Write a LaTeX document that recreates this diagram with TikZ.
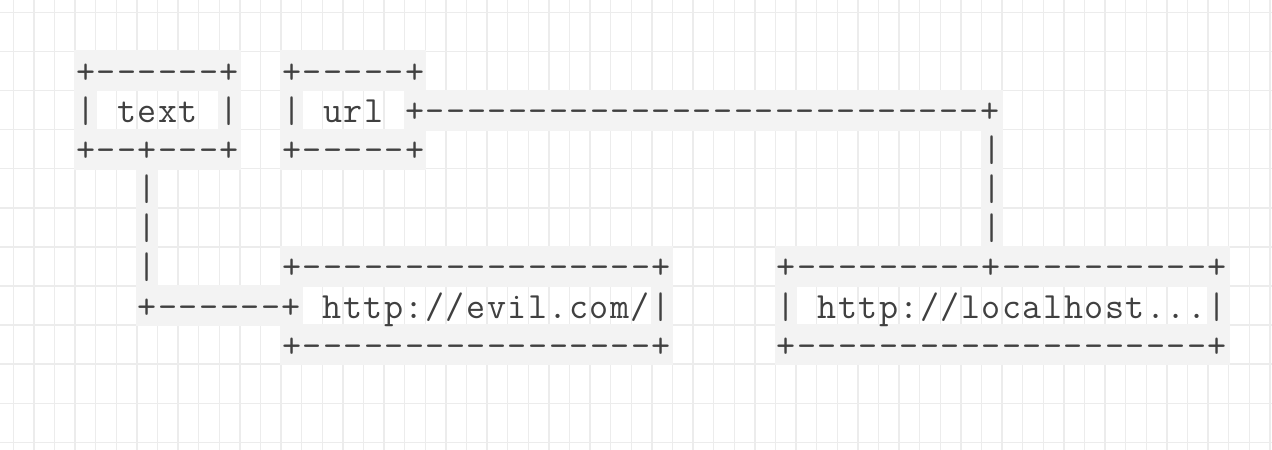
\documentclass[tikz,border=0pt]{standalone}
\usepackage{fontspec}
\setmonofont{Latin Modern Mono}[LetterSpace=4.0, WordSpace=1.075]
\usepackage{tikz}

\definecolor{gridgray}{RGB}{236,236,236}
\definecolor{cellgray}{RGB}{243,243,243}
\definecolor{inkgray}{RGB}{64,64,64}

\tikzset{
  gridline/.style = {gridgray, line width = 0.75pt},
  cellbg/.style = {fill = cellgray},
  ascii/.style = {inkgray, anchor = base west, inner sep = 0pt,
    font = \ttfamily\fontsize{18.5pt}{22pt}\selectfont}
}

\begin{document}
\begin{tikzpicture}[x = 10.3pt, y = -19.55pt]
\useasboundingbox[fill = white] (-0.6456, -0.3146) rectangle (61.102, 11.194);
% grid
\foreach \c in {0,...,61} \draw[gridline] (\c, -0.3146) -- (\c, 11.194);
\foreach \r in {0,...,11} \draw[gridline] (-0.6456, \r) -- (61.102, \r);
% shaded cells under the line characters
\foreach \a/\b/\r in {3/10/1, 13/19/1,
    3/3/2, 10/10/2, 13/13/2, 19/47/2,
    3/10/3, 13/19/3, 47/47/3,
    6/6/4, 47/47/4, 6/6/5, 47/47/5,
    6/6/6, 13/31/6, 37/58/6,
    6/13/7, 31/31/7, 37/37/7, 58/58/7,
    13/31/8, 37/58/8}
  \fill[cellbg] (\a - 0.04, \r - 0.025) rectangle (\b + 1.04, \r + 1.025);
% row 1
\node[ascii] (textTop) at (3.03, 1.82) {+------+};
\node[ascii] (urlTop) at (13.03, 1.82) {+-----+};
% row 2
\node[ascii] (textMid) at (3.03, 2.82) {| text |};
\node[ascii] (urlMid) at (13.03, 2.82) {| url +---------------------------+};
% row 3
\node[ascii] (textBot) at (3.03, 3.82) {+--+---+};
\node[ascii] (urlBot) at (13.03, 3.82) {+-----+};
\node[ascii] (urlDropA) at (47.03, 3.82) {|};
% rows 4 and 5
\node[ascii] (textDropA) at (6.03, 4.82) {|};
\node[ascii] (urlDropB) at (47.03, 4.82) {|};
\node[ascii] (textDropB) at (6.03, 5.82) {|};
\node[ascii] (urlDropC) at (47.03, 5.82) {|};
% row 6
\node[ascii] (textDropC) at (6.03, 6.82) {|};
\node[ascii] (evilTop) at (13.03, 6.82) {+-----------------+};
\node[ascii] (localTop) at (37.03, 6.82) {+---------+----------+};
% row 7
\node[ascii] (evilMid) at (6.03, 7.82) {+------+ http://evil.com/|};
\node[ascii] (localMid) at (37.03, 7.82) {| http://localhost...|};
% row 8
\node[ascii] (evilBot) at (13.03, 8.82) {+-----------------+};
\node[ascii] (localBot) at (37.03, 8.82) {+--------------------+};
\end{tikzpicture}
\end{document}
